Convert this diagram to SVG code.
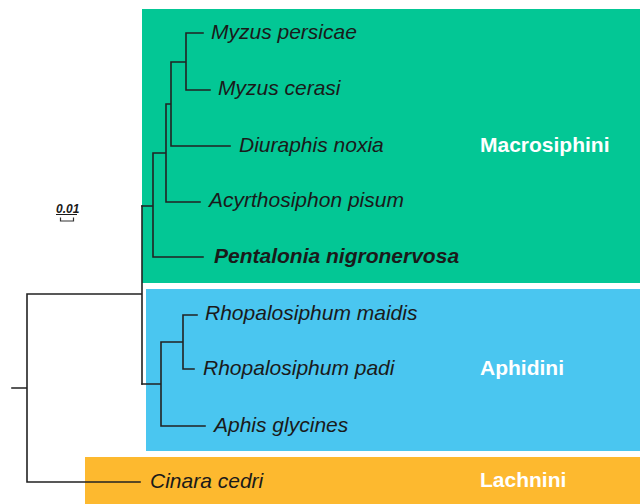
<svg xmlns="http://www.w3.org/2000/svg" width="640" height="504" viewBox="0 0 640 504">
<style>
.sp{font-family:"Liberation Sans",Arial,sans-serif;font-size:21px;font-style:italic;fill:#1a1a1a}
.b{font-weight:bold}
.cl{font-family:"Liberation Sans",Arial,sans-serif;font-size:21px;font-weight:bold;fill:#ffffff}
.br{fill:none;stroke:#222;stroke-width:1.6;stroke-linecap:square}
</style>
<rect width="640" height="504" fill="#ffffff"/>
<g id="macrosiphini">
<rect x="142" y="9" width="498" height="274" fill="#03C795"/>
<text class="cl" x="480" y="152">Macrosiphini</text>
</g>
<g id="aphidini">
<rect x="146" y="289" width="494" height="162" fill="#4AC6F0"/>
<text class="cl" x="480" y="375">Aphidini</text>
</g>
<g id="lachnini">
<rect x="85" y="457" width="555" height="47" fill="#FDB92F"/>
<text class="cl" x="480" y="487">Lachnini</text>
</g>
<g id="branches">
<path class="br" d="M12,388H27M27,294V482H140M27,294H142M142,206V384"/>
<path class="br" d="M142,206H153M153,153V257H203M153,153H166M166,104V202H200M166,104H171M171,62V146H230M171,62H186M186,33V90H210M186,33H203"/>
<path class="br" d="M142,384H161M161,342V426H205M161,342H183M183,315V369H194M183,315H197"/>
</g>
<g id="scale">
<text x="56" y="213" style="font-family:'Liberation Sans',Arial,sans-serif;font-size:12px;font-style:italic;font-weight:bold;fill:#1a1a1a">0.01</text>
<path d="M56,214.5H77" stroke="#1a1a1a" stroke-width="1" fill="none"/>
<path d="M60.5,217.5V221H73.5V217.5" stroke="#333" stroke-width="1.2" fill="none"/>
</g>
<g id="taxa">
<text class="sp" x="211" y="39">Myzus persicae</text>
<text class="sp" x="218" y="95">Myzus cerasi</text>
<text class="sp" x="239" y="152">Diuraphis noxia</text>
<text class="sp" x="209" y="207">Acyrthosiphon pisum</text>
<text class="sp b" x="214" y="263">Pentalonia nigronervosa</text>
<text class="sp" x="205" y="320">Rhopalosiphum maidis</text>
<text class="sp" x="203" y="375">Rhopalosiphum padi</text>
<text class="sp" x="214" y="432">Aphis glycines</text>
<text class="sp" x="150" y="488">Cinara cedri</text>
</g>
</svg>
